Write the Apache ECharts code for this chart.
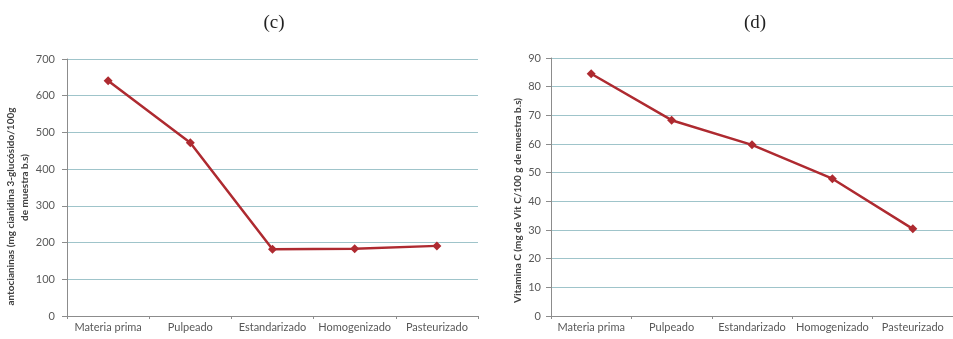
<!DOCTYPE html>
<html>
<head>
<meta charset="utf-8">
<script src="https://cdn.jsdelivr.net/npm/echarts@6/dist/echarts.min.js"></script>
<style>
  html, body { margin: 0; padding: 0; background: #ffffff; }
  #chart { width: 953px; height: 339px; }
</style>
</head>
<body>
<div id="chart"></div>
<script>
// Processing stages shared by both panels
const stages = ['Materia prima', 'Pulpeado', 'Estandarizado', 'Homogenizado', 'Pasteurizado'];

// Panel (c): anthocyanins
const anthocyanins = [641, 472, 182, 183, 191];
const anthoTicks = { min: 0, max: 700, interval: 100 };

// Panel (d): vitamin C
const vitaminC = [84.5, 68.3, 59.7, 47.9, 30.4];
const vitTicks = { min: 0, max: 90, interval: 10 };

const labelColor = '#595959';
const gridColor = '#9fc4ca';
const axisColor = '#8c8c8c';
const lineColor = '#ae2a30';
const uiFont = 'Lato';

const nameStyle = {
  color: '#404040', fontFamily: uiFont, fontWeight: 'bold', fontSize: 10, lineHeight: 14
};

function yAxisFor(idx, ticks, name, gap, nameExtra, margin) {
  return {
    type: 'value',
    gridIndex: idx,
    min: ticks.min, max: ticks.max, interval: ticks.interval,
    name: name,
    nameLocation: 'middle',
    nameGap: gap,
    nameTextStyle: Object.assign({}, nameStyle, nameExtra),
    axisLine: { show: true, lineStyle: { color: axisColor, width: 1 } },
    axisTick: { show: true, length: 5, lineStyle: { color: axisColor } },
    axisLabel: { color: labelColor, fontFamily: uiFont, fontSize: 11, margin: margin },
    splitLine: { show: true, lineStyle: { color: gridColor, width: 1.2 } }
  };
}

function xAxisFor(idx) {
  return {
    type: 'category',
    gridIndex: idx,
    data: stages,
    boundaryGap: true,
    axisLine: { show: true, lineStyle: { color: axisColor, width: 1 } },
    axisTick: { show: true, length: 3, lineStyle: { color: axisColor } },
    axisLabel: { color: labelColor, fontFamily: uiFont, fontSize: 11, margin: 6, interval: 0 }
  };
}

function lineSeries(idx, values) {
  return {
    type: 'line',
    xAxisIndex: idx,
    yAxisIndex: idx,
    data: values,
    symbol: 'diamond',
    symbolSize: 9,
    showSymbol: true,
    lineStyle: { color: lineColor, width: 2.5 },
    itemStyle: { color: lineColor },
    animation: false
  };
}

// Left axis title: first line sits lower than the second one
const anthoName = '{a|antocianinas (mg cianidina 3-glucósido/100g}\n{b|de muestra b.s)}';
const anthoNameStyle = {
  rich: {
    a: Object.assign({}, nameStyle, { padding: [0, 38, 0, 0] }),
    b: Object.assign({}, nameStyle)
  }
};

const chart = echarts.init(document.getElementById('chart'), null, { renderer: 'canvas' });
chart.setOption({
  backgroundColor: '#ffffff',
  animation: false,
  title: [
    { text: '(c)', left: 269, top: 9, textAlign: 'center',
      textStyle: { fontFamily: 'Liberation Serif', fontWeight: 'normal', fontSize: 19, color: '#222222' } },
    { text: '(d)', left: 750, top: 9, textAlign: 'center',
      textStyle: { fontFamily: 'Liberation Serif', fontWeight: 'normal', fontSize: 19, color: '#222222' } }
  ],
  grid: [
    { left: 67, top: 59, width: 411, height: 257 },
    { left: 551, top: 58, width: 407, height: 258 }
  ],
  xAxis: [xAxisFor(0), xAxisFor(1)],
  yAxis: [
    yAxisFor(0, anthoTicks, anthoName, 31, anthoNameStyle, 12),
    yAxisFor(1, vitTicks, 'Vitamina C (mg de Vit C/100 g de muestra b.s)', 25, { padding: [0, 27, 0, 0] }, 10)
  ],
  series: [lineSeries(0, anthocyanins), lineSeries(1, vitaminC)]
});
</script>
</body>
</html>
